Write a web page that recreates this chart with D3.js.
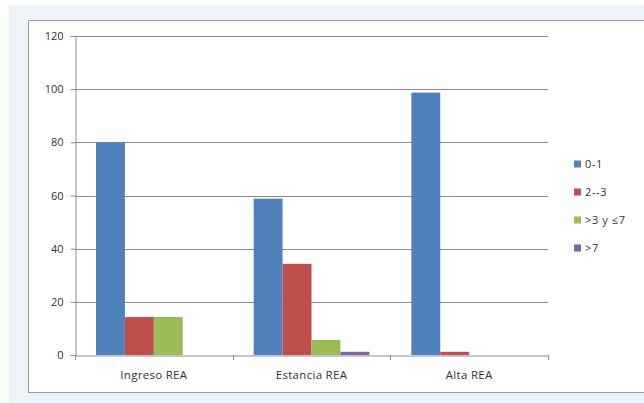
<!DOCTYPE html>
<html>
<head>
<meta charset="utf-8">
<script src="https://cdn.jsdelivr.net/npm/d3@7"></script>
<style>
  body { margin: 0; background: #fff; }
  svg { display: block; }
  text { font-family: "Open Sans", "Noto Sans", sans-serif; fill: #333; }
</style>
</head>
<body>
<svg id="chart" width="644" height="403"></svg>
<script>
var categories = ["Ingreso REA", "Estancia REA", "Alta REA"]
var seriesNames = ["0-1", "2--3", ">3 y \u22647", ">7"]
var colors = ["#4F81BD", "#C0504D", "#9BBB59", "#8064A2"]
// values per series, one per category
var s01 = [80, 58.8, 98.7]
var s23 = [14.3, 34.3, 1.2]
var s37 = [14.3, 5.7, 0]
var s7 = [0, 1.2, 0]
var yTicks = [0, 20, 40, 60, 80, 100, 120]

var series = [s01, s23, s37, s7]

var svg = d3.select("#chart")

// frame like the pasted excel picture
svg.append("rect").attr("x", 9).attr("y", 5).attr("width", 635).attr("height", 398).attr("fill", "#eef2f9")
svg.append("rect").attr("x", 28.5).attr("y", 20.5).attr("width", 620).attr("height", 372)
    .attr("fill", "#fff").attr("stroke", "#a0a0a0")

var x0 = d3.scaleBand().domain(categories).range([75, 548]).paddingInner(0).paddingOuter(0)
var x1 = d3.scaleBand().domain(d3.range(4)).range([21, x0.bandwidth() - 21])
var y = d3.scaleLinear().domain([0, 120]).range([355, 36])

// gridlines
svg.append("g").selectAll("line").data(yTicks.slice(1)).enter().append("line")
    .attr("x1", 75).attr("x2", 548)
    .attr("y1", function(d) { return Math.round(y(d)) + 0.5 })
    .attr("y2", function(d) { return Math.round(y(d)) + 0.5 })
    .attr("stroke", "#8c8c8c")

// bars
var groups = svg.append("g").selectAll("g").data(categories).enter().append("g")
    .attr("transform", function(d) { return "translate(" + x0(d) + ",0)" })
groups.selectAll("rect").data(function(d, i) { return series.map(function(s, k) { return {k: k, v: s[i]} }) })
    .enter().append("rect")
    .filter(function(d) { return d.v > 0 })
    .attr("x", function(d) { return x1(d.k) })
    .attr("width", x1.bandwidth())
    .attr("y", function(d) { return y(d.v) })
    .attr("height", function(d) { return y(0) - y(d.v) })
    .attr("fill", function(d) { return colors[d.k] })

// y axis
var yAxis = svg.append("g").attr("transform", "translate(75.5,0)")
    .call(d3.axisLeft(y).tickValues(yTicks).tickSize(5).tickPadding(7))
yAxis.select(".domain").attr("stroke", "#8c8c8c")
yAxis.selectAll(".tick line").attr("stroke", "#8c8c8c")
yAxis.selectAll("text").style("font-size", "11px").attr("fill", "#333")

// x axis
var xAxis = svg.append("g").attr("transform", "translate(0,355.5)")
    .call(d3.axisBottom(x0).tickSize(0).tickPadding(15))
xAxis.select(".domain").attr("stroke", "#8c8c8c")
xAxis.selectAll("text").style("font-size", "11.5px").style("letter-spacing", "0.3px").attr("fill", "#333")
svg.append("g").selectAll("line").data(categories.concat(["end"])).enter().append("line")
    .attr("x1", function(d, i) { return Math.round(75 + i * x0.bandwidth()) + 0.5 })
    .attr("x2", function(d, i) { return Math.round(75 + i * x0.bandwidth()) + 0.5 })
    .attr("y1", 355).attr("y2", 360).attr("stroke", "#8c8c8c")

// legend
var legend = svg.append("g").selectAll("g").data(seriesNames).enter().append("g")
    .attr("transform", function(d, i) { return "translate(574," + (164 + i * 28) + ")" })
legend.append("rect").attr("x", 0).attr("y", -3.5).attr("width", 7).attr("height", 7)
    .attr("fill", function(d, i) { return colors[i] })
legend.append("text").attr("x", 11).attr("y", 0).attr("dy", "0.35em")
    .style("font-size", "11px").style("letter-spacing", "0.6px").text(function(d) { return d })
</script>
</body>
</html>
